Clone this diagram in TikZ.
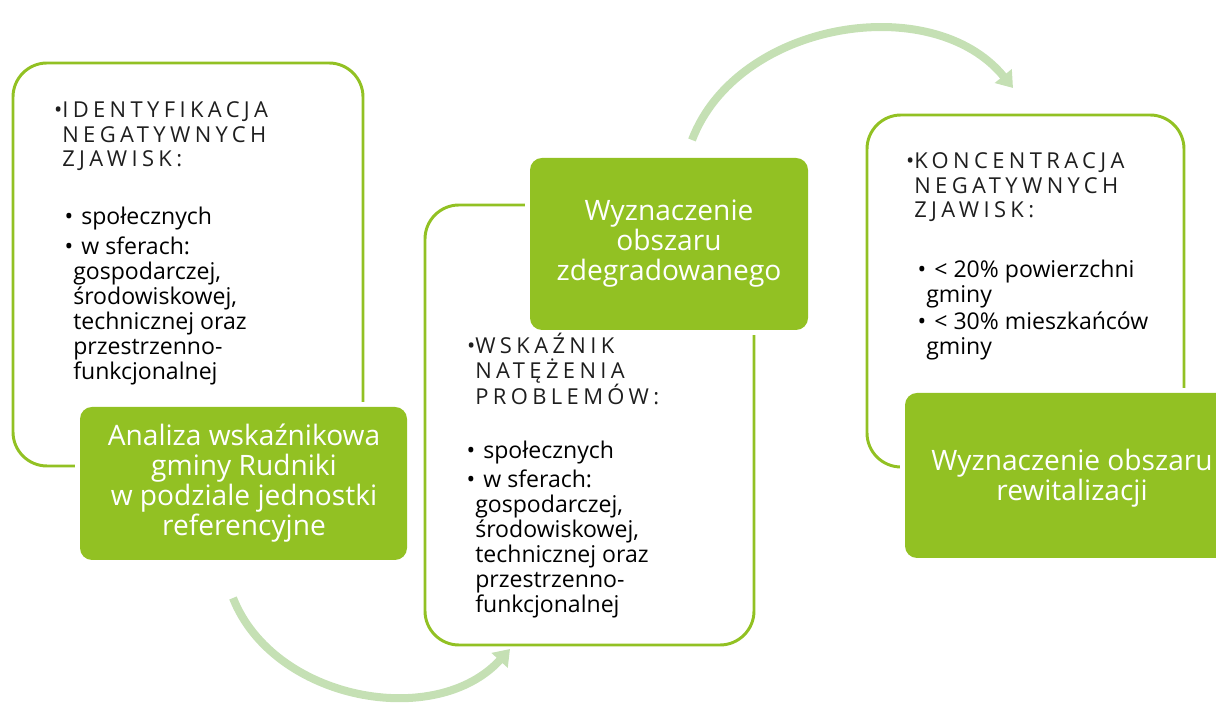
\documentclass[tikz,border=0pt]{standalone}
\usepackage{fontspec}
\setmainfont{Open Sans}
\newfontfamily\spacedcaps[LetterSpace=20]{Open Sans}
\usetikzlibrary{arrows.meta}
\definecolor{leafgreen}{RGB}{146, 193, 35}
\definecolor{palegreen}{RGB}{197, 224, 180}
\definecolor{inkgray}{RGB}{30, 30, 30}
\newcommand{\itm}{\llap{\textbullet}\hspace{0.35em}}

\begin{document}
\begin{tikzpicture}[x=0.025cm, y=0.025cm,
        frame/.style     = {draw=leafgreen, line width=2.1pt, rounded corners=0.85cm},
        stage/.style     = {fill=leafgreen, rounded corners=0.3cm, preaction={draw=white, line width=7pt}},
        stagetext/.style = {color=white, align=center, font=\fontsize{20}{21.3}\selectfont},
        headtext/.style  = {color=inkgray, align=left, anchor=base west, inner sep=0pt, font=\spacedcaps\fontsize{15.6}{17.6}\selectfont},
        itemtext/.style  = {color=black, align=left, anchor=base west, inner sep=0pt, font=\fontsize{16.4}{17.8}\selectfont},
        flow/.style      = {draw=palegreen, line width=5.7pt, -{Triangle[width=15pt, length=11pt]}}]
            \useasboundingbox (0, 0) rectangle (1216, 707);
            \clip             (0, 0) rectangle (1216, 707);

            % curved arrows
            \coordinate (lowstart) at ( 233, 109);
            \coordinate (lowend)   at ( 510,  58);
            \coordinate (topstart) at ( 692, 567);
            \coordinate (topend)   at (1013, 619);
            \draw[flow] (lowstart) to[bend right=58] (lowend);
            \draw[flow] (topstart) to[bend left=60]  (topend);

            % outline frames
            \draw[frame] (  13, 241) rectangle ( 363, 644);
            \draw[frame] ( 425,  62) rectangle ( 754, 502);
            \draw[frame] ( 867, 240) rectangle (1184, 592);

            % green stages
            \fill[stage] (  80, 147) rectangle ( 407, 300);
            \fill[stage] ( 530, 377) rectangle ( 808, 549);
            \fill[stage] ( 905, 149) rectangle (1239, 314);

            \node[stagetext] (analiza)       at ( 244, 224) {Analiza wskaźnikowa\\gminy Rudniki\\ w podziale jednostki\\referencyjne};
            \node[stagetext] (zdegradowany)  at ( 669, 463) {Wyznaczenie\\obszaru\\zdegradowanego};
            \node[stagetext] (rewitalizacja) at (1072, 229) {Wyznaczenie obszaru\\rewitalizacji};

            % texts in the frames (base = last line)
            \node[headtext] (identyfikacja) at (  62, 540) {\llap{\textbullet}IDENTYFIKACJA\\NEGATYWNYCH\\ZJAWISK:};
            \node[itemtext] (sferyleft)     at (  73, 327) {\itm społecznych\\[3.6pt]\itm w sferach:\\gospodarczej,\\środowiskowej,\\technicznej oraz\\przestrzenno-\\funkcjonalnej};

            \node[headtext] (wskaznik)      at ( 475, 302) {\llap{\textbullet}WSKAŹNIK\\NATĘŻENIA\\PROBLEMÓW:};
            \node[itemtext] (sferymid)      at ( 475,  94) {\itm społecznych\\[3pt]\itm w sferach:\\gospodarczej,\\środowiskowej,\\technicznej oraz\\przestrzenno-\\funkcjonalnej};

            \node[headtext] (koncentracja)  at ( 914, 489) {\llap{\textbullet}KONCENTRACJA\\NEGATYWNYCH\\ZJAWISK:};
            \node[itemtext] (progi)         at ( 926, 352) {\itm < 20\% powierzchni\\gminy\\[2pt]\itm < 30\% mieszkańców\\gminy};
        \end{tikzpicture}
\end{document}
